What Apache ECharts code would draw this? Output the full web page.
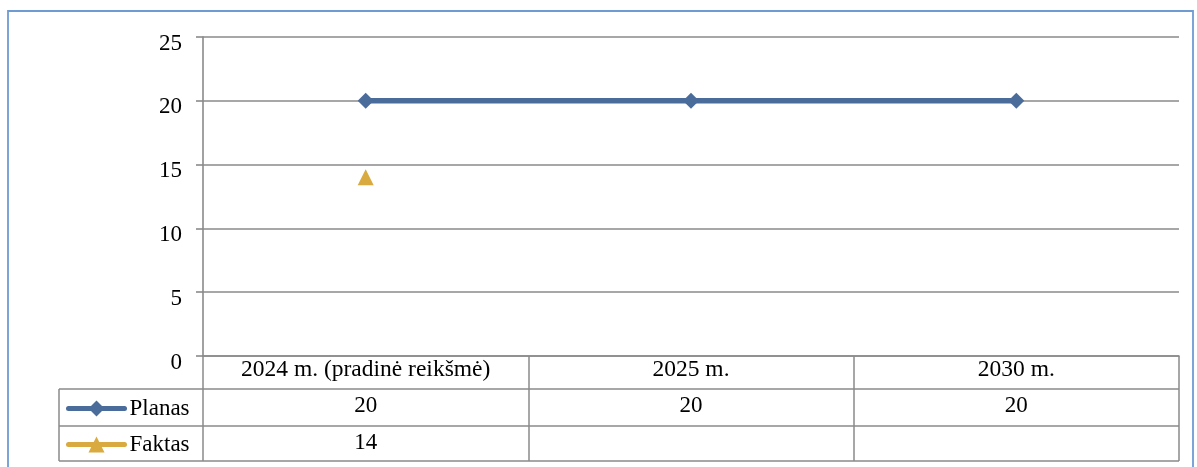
<!DOCTYPE html>
<html><head><meta charset="utf-8">
<script src="https://cdn.jsdelivr.net/npm/echarts@6/dist/echarts.min.js"></script>
<style>html,body{margin:0;padding:0;background:#fff}#c{width:1197px;height:467px}</style>
</head><body><div id="c"></div>
<script>
const categories = ['2024 m. (pradinė reikšmė)', '2025 m.', '2030 m.'];
const planas = [20, 20, 20];
const faktas = [14, null, null];
const seriesNames = ['Planas', 'Faktas'];
const yTicks = {min: 0, max: 25, interval: 5};

const FONT = '"Liberation Serif", "Times New Roman", serif';
const GRID = '#8a8a8a';
const BLUE = '#4a6c9b';
const GOLD = '#d9aa3f';
const fmt = v => (v === null || v === undefined) ? '' : String(v);

const chart = echarts.init(document.getElementById('c'));
const L = 203, R = 1179, T = 37, B = 356;
const tableLeft = 59, rowLines = [389, 426, 461];

const hiddenValueAxis = (vals, offset, margin) => ({
  type: 'category', data: vals.map(fmt), position: 'bottom', offset: offset,
  axisLine: {show: false}, axisTick: {show: false}, splitLine: {show: false},
  axisLabel: {margin: margin, fontFamily: FONT, fontSize: 23, color: '#000'}
});

chart.setOption({
  animation: false,
  grid: {left: L, right: 1197 - R, top: T, bottom: 467 - B, containLabel: false},
  xAxis: [
    {
      type: 'category', data: categories, boundaryGap: true, position: 'bottom',
      axisLine: {show: true, lineStyle: {color: GRID, width: 1.6}},
      axisTick: {show: true, inside: false, length: 105, lineStyle: {color: GRID, width: 1.5}},
      axisLabel: {margin: 2, fontFamily: FONT, fontSize: 23.5, color: '#000'},
      splitLine: {show: false}
    },
    hiddenValueAxis(planas, 33, 5),
    hiddenValueAxis(faktas, 70, 5)
  ],
  yAxis: {
    type: 'value', min: yTicks.min, max: yTicks.max, interval: yTicks.interval,
    axisLine: {show: true, lineStyle: {color: GRID, width: 1.6}},
    axisTick: {show: true, length: 7, lineStyle: {color: GRID, width: 1.6}},
    axisLabel: {margin: 21, fontFamily: FONT, fontSize: 23, color: '#000',
      verticalAlign: 'top', lineHeight: 13},
    splitLine: {show: true, lineStyle: {color: GRID, width: 1.6}}
  },
  legend: {
    orient: 'vertical', left: 66, top: 397, padding: 0, itemWidth: 56, itemHeight: 20, itemGap: 13,
    textStyle: {fontFamily: FONT, fontSize: 23, color: '#000', lineHeight: 22},
    lineStyle: {width: 5, cap: 'round'},
    data: seriesNames
  },
  series: [
    {
      name: seriesNames[0], type: 'line', data: planas, xAxisIndex: 0,
      symbol: 'diamond', symbolSize: 16, showSymbol: true,
      lineStyle: {color: BLUE, width: 5.5}, itemStyle: {color: BLUE}
    },
    {
      name: seriesNames[1], type: 'line', data: faktas, xAxisIndex: 0,
      symbol: 'triangle', symbolSize: 16, showSymbol: true,
      lineStyle: {color: GOLD, width: 5.5}, itemStyle: {color: GOLD}
    }
  ],
  graphic: [
    {type: 'rect', shape: {x: 8, y: 11, width: 1185, height: 480},
      style: {fill: 'none', stroke: '#6f9bd3', lineWidth: 1.8}, silent: true},
    ...rowLines.map(y => ({type: 'line', shape: {x1: tableLeft, y1: y, x2: R, y2: y},
      style: {stroke: GRID, lineWidth: 1.5}, silent: true})),
    {type: 'line', shape: {x1: tableLeft, y1: rowLines[0], x2: tableLeft, y2: rowLines[2]},
      style: {stroke: GRID, lineWidth: 1.5}, silent: true}
  ]
});
</script></body></html>
